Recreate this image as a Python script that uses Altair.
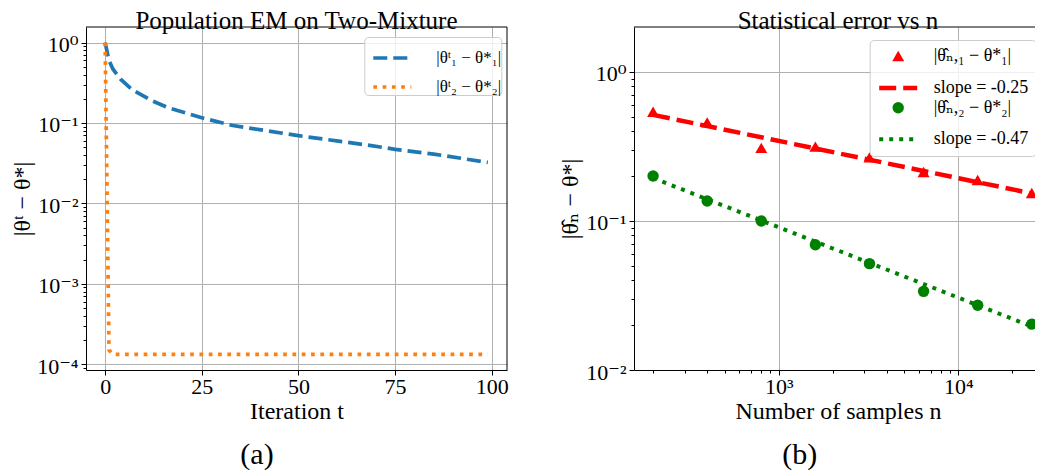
import altair as alt
import pandas as pd

FONT = "Liberation Serif, DejaVu Serif"

# ---------------- panel (a): population EM ----------------
t_em1 = [0, 1, 2, 4, 7, 12, 16, 25, 33, 50, 68, 75, 85, 99]
err_em1 = [1.0, 0.60, 0.47, 0.35, 0.26, 0.19, 0.157, 0.116, 0.093, 0.0695, 0.053, 0.047, 0.041, 0.0323]
t_em2 = [0, 1, 2, 99]
err_em2 = [1.0, 1.5e-4, 1.32e-4, 1.32e-4]
labels_a = ["|θᵗ₁ − θ*₁|", "|θᵗ₂ − θ*₂|"]
colors_a = ["#1f77b4", "#ff7f0e"]
dashes_a = [[14, 6], [3.7, 5.6]]
xticks_a = [0, 25, 50, 75, 100]
yticks_a = [1.0, 0.1, 0.01, 0.001, 0.0001]
ylabels_a = ["10⁰", "10⁻¹", "10⁻²", "10⁻³", "10⁻⁴"]

# ---------------- panel (b): statistical error ----------------
n_samples = [200, 400, 800, 1600, 3200, 6400, 12800, 25600]
err_n1 = [0.54, 0.458, 0.309, 0.315, 0.267, 0.213, 0.188, 0.154]
err_n2 = [0.200, 0.136, 0.100, 0.0693, 0.0517, 0.0337, 0.0272, 0.0203]
fit_n = [200, 25600]
fit_1 = [0.515, 0.153]
fit_2 = [0.194, 0.0196]
labels_b = ["|θ̂ₙ,₁ − θ*₁|", "slope = -0.25", "|θ̂ₙ,₂ − θ*₂|", "slope = -0.47"]
colors_b = ["red", "red", "green", "green"]
shapes_b = ["triangle-up", "stroke", "circle", "stroke"]
sizes_b = [144, 1444, 130, 1444]
widths_b = [0, 4.5, 0, 4]
dashes_b = [[1, 0], [17, 7], [1, 0], [4, 6]]
xticks_b = [1000, 10000]
xlabels_b = ["10³", "10⁴"]
yticks_b = [1.0, 0.1, 0.01]
ylabels_b = ["10⁰", "10⁻¹", "10⁻²"]

titles = ["Population EM on Two-Mixture", "Statistical error vs n"]
captions = ["(a)", "(b)"]

W_A, W_B, H = 421, 408, 343


def minor_ticks(lo, hi):
    out = []
    for e in range(-6, 6):
        for k in range(2, 10):
            v = float(f"{k}e{e}")
            if lo < v < hi:
                out.append(v)
    return out


def log_axis(majors, labels, minors, title, **kw):
    maj = "[" + ",".join(repr(m) for m in majors) + "]"
    is_minor = f"indexof({maj}, datum.value) < 0"
    expr = " : ".join(f"datum.value == {m!r} ? '{l}'" for m, l in zip(majors, labels)) + " : ''"
    return alt.Axis(
        values=sorted(majors + minors),
        labelExpr=expr,
        tickSize={"condition": {"test": is_minor, "value": 3}, "value": 5},
        gridOpacity={"condition": {"test": is_minor, "value": 0}, "value": 1},
        labelOverlap=False,
        labelFlush=False,
        title=title,
        **kw,
    )


ytitle_kw = dict(titleX=-57, titleY=H / 2, titleAngle=270, titleBaseline="alphabetic",
                 titleAlign="center", labelOffset=2)
xaxis_kw = dict(labelPadding=1, titlePadding=2)

# ---------- panel (a) ----------
df_a = pd.DataFrame({
    "t": t_em1 + t_em2,
    "err": err_em1 + err_em2,
    "series": [labels_a[0]] * len(t_em1) + [labels_a[1]] * len(t_em2),
})

legend_a = alt.Legend(
    title=None, orient="none", legendX=278.3, legendY=10,
    symbolType="stroke", symbolSize=1444, symbolStrokeWidth=3.7, symbolOffset=7,
    labelOffset=23, rowPadding=-3.7, padding=0, labelFontSize=17, symbolOpacity=1,
)
ydom_a = [8.45e-5, 1.563]
lines_a = alt.Chart(df_a).mark_line(strokeWidth=3.7, clip=True).encode(
    x=alt.X("t:Q", scale=alt.Scale(domain=[-4.95, 103.95], nice=False, zero=False),
            axis=alt.Axis(values=xticks_a, format="d", title="Iteration t", labelFlush=False, **xaxis_kw)),
    y=alt.Y("err:Q", scale=alt.Scale(type="log", domain=ydom_a, nice=False),
            axis=log_axis(yticks_a, ylabels_a, minor_ticks(*ydom_a), "|θᵗ − θ*|", **ytitle_kw)),
    color=alt.Color("series:N", scale=alt.Scale(domain=labels_a, range=colors_a), legend=legend_a),
    strokeDash=alt.StrokeDash("series:N", scale=alt.Scale(domain=labels_a, range=dashes_a),
                              legend=legend_a),
)

frame_a = alt.Chart(alt.Data(values=[{"k": 0}])).mark_rule(color="black", strokeWidth=1)
top_a = frame_a.encode(x=alt.value(0), x2=alt.value(W_A), y=alt.value(0))
right_a = frame_a.encode(x=alt.value(W_A), y=alt.value(0), y2=alt.value(H))
cap_a = alt.Chart(alt.Data(values=[{"cap": captions[0]}])).mark_text(
    fontSize=30, font=FONT, color="black", baseline="alphabetic", align="center"
).encode(text="cap:N", x=alt.value(171), y=alt.value(437))

panel_a = alt.layer(lines_a, top_a, right_a, cap_a).properties(
    width=W_A, height=H, title=titles[0])

# ---------- panel (b) ----------
df_pts = pd.DataFrame({
    "n": n_samples + n_samples,
    "err": err_n1 + err_n2,
    "series_b": [labels_b[0]] * len(n_samples) + [labels_b[2]] * len(n_samples),
})
df_fit = pd.DataFrame({
    "n": fit_n + fit_n,
    "err": fit_1 + fit_2,
    "series_b": [labels_b[1]] * 2 + [labels_b[3]] * 2,
})

xdom_b = [156.6, 29190]
ydom_b = [0.01, 2.0]
xb = alt.X("n:Q", scale=alt.Scale(type="log", domain=xdom_b, nice=False),
           axis=log_axis(xticks_b, xlabels_b, minor_ticks(*xdom_b), "Number of samples n", **xaxis_kw))
yb = alt.Y("err:Q", scale=alt.Scale(type="log", domain=ydom_b, nice=False),
           axis=log_axis(yticks_b, ylabels_b, minor_ticks(*ydom_b), "|θ̂ₙ − θ*|", **ytitle_kw))

legend_b = alt.Legend(
    title=None, orient="none", legendX=235.7, legendY=13,
    symbolType="stroke", symbolSize=1444, labelOffset=14, rowPadding=1.4, padding=7,
    labelFontSize=18, symbolOpacity=1,
)


def ord_scale(rng):
    return alt.Scale(type="ordinal", domain=labels_b, range=rng)


fit_lines = alt.Chart(df_fit).mark_line(clip=True).encode(
    x=xb, y=yb,
    stroke=alt.Stroke("series_b:N", scale=alt.Scale(domain=labels_b, range=colors_b), legend=legend_b),
    strokeDash=alt.StrokeDash("series_b:N", scale=alt.Scale(domain=labels_b, range=dashes_b),
                              legend=legend_b),
    strokeWidth=alt.StrokeWidth("series_b:N", scale=ord_scale(widths_b), legend=legend_b),
)
pts = alt.Chart(df_pts).mark_point(filled=True, opacity=1, strokeWidth=0, clip=True).encode(
    x=xb, y=yb,
    fill=alt.Fill("series_b:N", scale=alt.Scale(domain=labels_b, range=colors_b), legend=legend_b),
    shape=alt.Shape("series_b:N", scale=alt.Scale(domain=labels_b, range=shapes_b), legend=legend_b),
    size=alt.Size("series_b:N", scale=ord_scale(sizes_b), legend=legend_b),
)
top_b = alt.Chart(alt.Data(values=[{"k": 0}])).mark_rule(color="black", strokeWidth=1).encode(
    x=alt.value(0), x2=alt.value(W_B), y=alt.value(0))
cap_b = alt.Chart(alt.Data(values=[{"cap": captions[1]}])).mark_text(
    fontSize=30, font=FONT, color="black", baseline="alphabetic", align="center"
).encode(text="cap:N", x=alt.value(165.7), y=alt.value(437))

panel_b = alt.layer(fit_lines, pts, top_b, cap_b).properties(
    width=W_B, height=H, title=titles[1])

chart = alt.hconcat(panel_a, panel_b, spacing=127, bounds="flush").resolve_scale(
    x="independent", y="independent", color="independent", strokeDash="independent",
    shape="independent", size="independent", strokeWidth="independent",
    fill="independent", stroke="independent",
).properties(
    padding={"left": 2, "top": 0, "right": -8, "bottom": 0}, background="white",
).configure(font=FONT).configure_view(stroke=None).configure_axis(
    domainColor="black", domainWidth=1, tickColor="black", tickWidth=1,
    gridColor="#b0b0b0", gridWidth=1, labelFont=FONT, labelFontSize=22, labelColor="black",
    labelPadding=3, titleFont=FONT, titleFontSize=24, titleFontWeight="normal", titleColor="black",
    titlePadding=0,
).configure_title(
    font=FONT, fontSize=25, fontWeight="normal", color="black", anchor="middle",
    offset=-7, baseline="alphabetic",
).configure_legend(
    labelFont=FONT, labelColor="black", fillColor="rgba(255,255,255,0.8)",
    strokeColor="#cccccc", cornerRadius=4, labelLimit=300,
)

chart.save("out.html", embed_options={"renderer": "svg", "actions": False})
